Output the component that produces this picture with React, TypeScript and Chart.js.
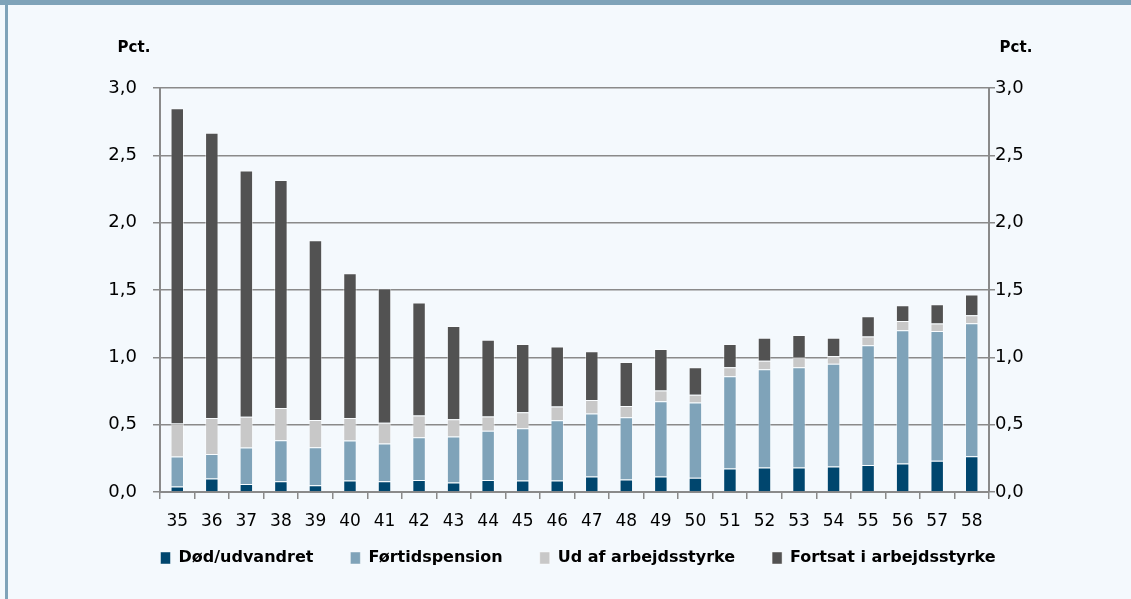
import React, { useEffect, useRef } from "react";
import { Chart, registerables } from "chart.js";

Chart.register(...registerables);

const categories = ["35","36","37","38","39","40","41","42","43","44","45","46","47","48","49","50","51","52","53","54","55","56","57","58"];

const dodUdvandret = [0.04,0.10,0.06,0.08,0.05,0.085,0.08,0.09,0.07,0.09,0.085,0.085,0.115,0.093,0.115,0.106,0.175,0.182,0.182,0.19,0.20,0.212,0.232,0.266];
const fortidspension = [0.223,0.183,0.27,0.305,0.283,0.298,0.281,0.317,0.342,0.364,0.389,0.447,0.468,0.462,0.558,0.558,0.684,0.729,0.744,0.763,0.89,0.989,0.964,0.987];
const udAfArbejdsstyrke = [0.245,0.266,0.228,0.238,0.201,0.166,0.153,0.161,0.128,0.107,0.119,0.102,0.101,0.083,0.081,0.058,0.067,0.064,0.072,0.057,0.065,0.069,0.055,0.059];
const fortsatIArbejdsstyrke = [2.342,2.119,1.829,1.693,1.336,1.075,0.997,0.84,0.692,0.57,0.506,0.446,0.362,0.327,0.307,0.205,0.173,0.171,0.168,0.136,0.151,0.117,0.143,0.154];

const seriesNames = ["Død/udvandret", "Førtidspension", "Ud af arbejdsstyrke", "Fortsat i arbejdsstyrke"];
const yMin = 0;
const yMax = 3;
const yStep = 0.5;
const unitLabel = "Pct.";

const FONT = "'DejaVu Sans', sans-serif";
const GRID = "#8a8a8a";
const BG = "#f4f9fd";
const FRAME = "#7fa3b9";

const fmt = (v: number | string) => Number(v).toFixed(1).replace(".", ",");

const unitPlugin = {
  id: "unitLabels",
  afterLayout(chart: any) {
    const lg = chart.legend;
    if (lg) {
      const h = lg.height;
      lg.top = chart.chartArea.bottom + 21;
      lg.bottom = lg.top + h;
    }
  },
  afterDraw(chart: any) {
    const ctx = chart.ctx;
    ctx.save();
    ctx.font = `bold 15px ${FONT}`;
    ctx.fillStyle = "#000";
    ctx.textAlign = "center";
    ctx.textBaseline = "middle";
    ctx.fillText(unitLabel, 134, 48);
    ctx.fillText(unitLabel, 1016, 48);
    ctx.restore();
  },
};

export default function App() {
  const ref = useRef<HTMLCanvasElement | null>(null);

  useEffect(() => {
    if (!ref.current) return;
    const colors = ["#00466e", "#7fa3b9", "#c8c8c8", "#525252"];
    const data = [dodUdvandret, fortidspension, udAfArbejdsstyrke, fortsatIArbejdsstyrke];
    const chart = new Chart(ref.current, {
      type: "bar",
      data: {
        labels: categories,
        datasets: data.map((d, i) => ({
          label: seriesNames[i],
          data: d,
          backgroundColor: colors[i],
          borderColor: "rgba(255,255,255,0.45)",
          borderWidth: 1,
          barPercentage: 0.39,
          categoryPercentage: 1,
          yAxisID: "y",
        })),
      },
      options: {
        animation: false,
        responsive: false,
        maintainAspectRatio: false,
        layout: { padding: { left: 25, right: 0, top: 88, bottom: 0 } },
        plugins: {
          tooltip: { enabled: false },
          title: { display: false },
          legend: {
            display: true,
            position: "bottom",
            align: "center",
            labels: {
              boxWidth: 10,
              boxHeight: 12,
              padding: 37,
              color: "#000",
              font: { family: FONT, size: 16, weight: "bold" },
            },
          },
        },
        scales: {
          x: {
            stacked: true,
            offset: true,
            grid: {
              display: true,
              offset: true,
              drawOnChartArea: false,
              drawTicks: true,
              tickLength: 7,
              color: GRID,
              lineWidth: 1.5,
            },
            border: { display: true, color: GRID, width: 2 },
            ticks: {
              color: "#000",
              font: { family: FONT, size: 17 },
              padding: 12,
              maxRotation: 0,
              autoSkip: false,
            },
            afterFit: (s: any) => { s.height = 44; },
          },
          y: {
            type: "linear",
            position: "left",
            stacked: true,
            min: yMin,
            max: yMax,
            ticks: {
              stepSize: yStep,
              color: "#000",
              font: { family: FONT, size: 18 },
              padding: 16,
              callback: (v: any) => fmt(v),
            },
            grid: {
              color: GRID,
              lineWidth: 1.5,
              drawTicks: true,
              tickLength: 7,
            },
            border: { display: true, color: GRID, width: 2 },
            afterFit: (s: any) => { s.width = 135; },
          },
          y2: {
            type: "linear",
            position: "right",
            min: yMin,
            max: yMax,
            ticks: {
              stepSize: yStep,
              color: "#000",
              font: { family: FONT, size: 18 },
              padding: 0,
              callback: (v: any) => fmt(v),
            },
            grid: {
              color: GRID,
              lineWidth: 1.5,
              drawOnChartArea: false,
              drawTicks: true,
              tickLength: 6,
            },
            border: { display: true, color: GRID, width: 2 },
            afterFit: (s: any) => { s.width = 142; },
          },
        },
      },
      plugins: [unitPlugin],
    });
    return () => chart.destroy();
  }, []);

  return (
    <div style={{ position: "fixed", left: 0, top: 0, width: 1131, height: 599, background: BG, overflow: "hidden" }}>
      <div style={{ position: "absolute", left: 0, top: 0, width: 1131, height: 5, background: FRAME }} />
      <div style={{ position: "absolute", left: 5, top: 0, width: 3, height: 599, background: FRAME }} />
      <canvas ref={ref} width={1131} height={599} style={{ position: "absolute", left: 0, top: 0, width: 1131, height: 599 }} />
    </div>
  );
}
